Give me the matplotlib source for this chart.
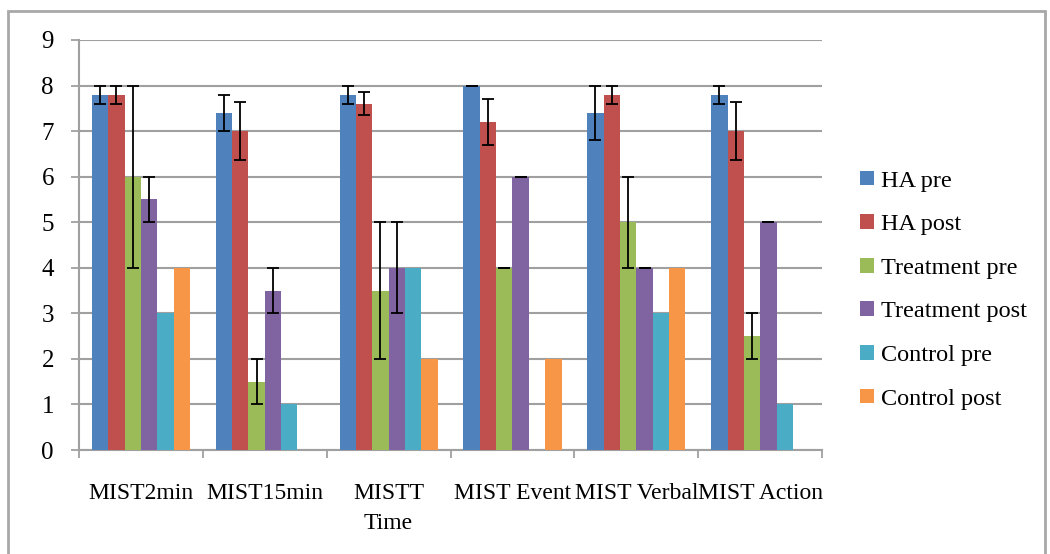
import matplotlib.pyplot as plt
from matplotlib.patches import Rectangle
import numpy as np

# data
categories = ['MIST2min', 'MIST15min', 'MISTT\nTime', 'MIST Event', 'MIST Verbal', 'MIST Action']
series = ['HA pre', 'HA post', 'Treatment pre', 'Treatment post', 'Control pre', 'Control post']

ha_pre = [7.8, 7.4, 7.8, 8.0, 7.4, 7.8]
ha_post = [7.8, 7.0, 7.6, 7.2, 7.8, 7.0]
treat_pre = [6.0, 1.5, 3.5, 4.0, 5.0, 2.5]
treat_post = [5.5, 3.5, 4.0, 6.0, 4.0, 5.0]
control_pre = [3.0, 1.0, 4.0, 0.0, 3.0, 1.0]
control_post = [4.0, 0.0, 2.0, 2.0, 4.0, 0.0]

ha_pre_err = [0.2, 0.4, 0.2, 0.0, 0.6, 0.2]
ha_post_err = [0.2, 0.63, 0.25, 0.5, 0.2, 0.63]
treat_pre_err = [2.0, 0.5, 1.5, 0.0, 1.0, 0.5]
treat_post_err = [0.5, 0.5, 1.0, 0.0, 0.0, 0.0]

values = [ha_pre, ha_post, treat_pre, treat_post, control_pre, control_post]
errors = [ha_pre_err, ha_post_err, treat_pre_err, treat_post_err, None, None]
colors = ['#4F81BD', '#C0504D', '#9BBB59', '#8064A2', '#4BACC6', '#F79646']

plt.rcParams['font.family'] = ['Liberation Serif', 'DejaVu Serif']

fig = plt.figure(figsize=(10.5, 5.54), dpi=100)
ax = fig.add_axes([0.0752, 0.1877, 0.7078, 0.7401])

x = np.arange(len(categories))
w = 0.132
for i in range(len(series)):
    pos = x - 2.5 * w + i * w
    ax.bar(pos, values[i], width=w, color=colors[i], label=series[i], zorder=3)
    if errors[i] is not None:
        ax.errorbar(pos, values[i], yerr=errors[i], fmt='none', ecolor='black',
                    elinewidth=1.3, capsize=4.5, capthick=1.3, zorder=4)

ax.set_xlim(-0.5, len(categories) - 0.5)
ax.set_ylim(0, 9)
ax.set_yticks(range(0, 10))
ax.yaxis.grid(True, color='#a0a0a0', linewidth=1.5, zorder=0)
ax.set_axisbelow(True)

ax.set_xticks(x)
ax.set_xticklabels(categories, fontsize=17, linespacing=1.55)
ax.set_xticks(np.arange(-0.5, len(categories), 1), minor=True)
ax.tick_params(axis='x', which='major', length=0, pad=24)
ax.tick_params(axis='x', which='minor', length=6, width=1.3, color='#a0a0a0', direction='out')
ax.tick_params(axis='y', length=6, width=1.3, color='#a0a0a0', labelsize=18, pad=12)

for s in ['top', 'right']:
    ax.spines[s].set_visible(False)
for s in ['left', 'bottom']:
    ax.spines[s].set_color('#a0a0a0')
    ax.spines[s].set_linewidth(1.5)

leg = ax.legend(loc='center left', bbox_to_anchor=(1.022, 0.39), frameon=False,
                fontsize=17.5, handlelength=0.55, handleheight=0.55, handletextpad=0.3,
                labelspacing=0.93)

# outer chart border
fig.patches.append(Rectangle((0.008, -0.01), 0.987, 0.99, transform=fig.transFigure,
                             fill=False, edgecolor='#a8a8a8', linewidth=2))

fig.savefig('out.png', dpi=100)
